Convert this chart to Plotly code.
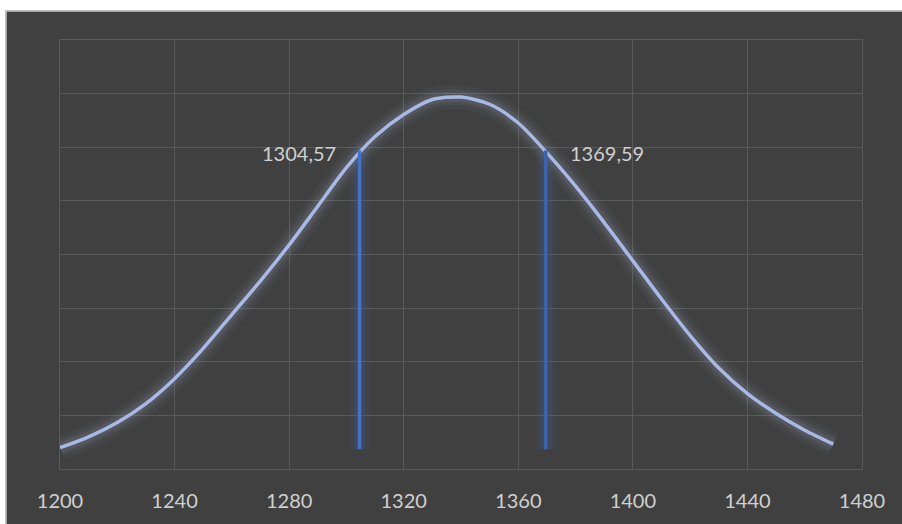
import plotly.graph_objects as go

# ---- data ----
curve_x = [1200, 1210, 1220, 1230, 1240, 1250, 1260, 1270, 1280, 1290, 1300, 1310, 1320, 1330,
           1340, 1350, 1360, 1370, 1380, 1390, 1400, 1410, 1420, 1430, 1440, 1450, 1460, 1470]
curve_y = [0.000397, 0.000600, 0.000867, 0.001220, 0.001685, 0.002250, 0.002880, 0.003510,
           0.004179, 0.004900, 0.005620, 0.006200, 0.006610, 0.006890, 0.006935, 0.006802,
           0.006452, 0.005895, 0.005275, 0.004595, 0.003882, 0.003170, 0.002489, 0.001883,
           0.001406, 0.001035, 0.000724, 0.000464]

marker_x = [1304.57, 1369.59]
marker_top = [0.005938, 0.005938]
marker_bottom = [0.000370, 0.000370]
marker_colors = ["#4472C4", "#3B64AD"]

x_ticks = [1200, 1240, 1280, 1320, 1360, 1400, 1440, 1480]

BG = "#404040"
GRID = "#595959"
TEXT = "#D0D0D0"
FONT = "Lato"

fig = go.Figure()

# glow under the curve
for w, a in [(24, 0.05), (16, 0.08), (10, 0.11)]:
    fig.add_trace(go.Scatter(x=curve_x, y=curve_y, mode="lines",
                             line=dict(color=f"rgba(165,175,205,{a})", width=w, shape="spline", smoothing=0.8),
                             hoverinfo="skip", showlegend=False))

# glow for the vertical lines
for xv, yt, yb in zip(marker_x, marker_top, marker_bottom):
    for w, a in [(20, 0.08), (12, 0.12)]:
        fig.add_trace(go.Scatter(x=[xv, xv], y=[yb, yt], mode="lines",
                                 line=dict(color=f"rgba(68,114,196,{a})", width=w),
                                 hoverinfo="skip", showlegend=False))

# the curve
fig.add_trace(go.Scatter(x=curve_x, y=curve_y, mode="lines",
                         line=dict(color="#A9B9E6", width=3.5, shape="spline", smoothing=0.8),
                         showlegend=False))

# vertical lines
for xv, yt, yb, c in zip(marker_x, marker_top, marker_bottom, marker_colors):
    fig.add_trace(go.Scatter(x=[xv, xv], y=[yb, yt], mode="lines",
                             line=dict(color=c, width=3.5), showlegend=False))

# labels
for i, (xv, yt) in enumerate(zip(marker_x, marker_top)):
    txt = f"{xv:.2f}".replace(".", ",")
    fig.add_annotation(x=xv, y=yt, xref="x", yref="y", text=txt, showarrow=False,
                       xanchor="right" if i == 0 else "left",
                       xshift=-22 if i == 0 else 22, yshift=-2,
                       font=dict(family=FONT, size=20, color=TEXT))

# white outer strips and light border (top and left)
fig.add_shape(type="rect", xref="paper", yref="paper", x0=-0.2, x1=1.2,
              y0=(470.7 - 10.5) / 430.7, y1=1.3, fillcolor="white", line=dict(width=0), layer="above")
fig.add_shape(type="rect", xref="paper", yref="paper", x0=-0.2, x1=(5.5 - 60) / 802,
              y0=-0.3, y1=1.3, fillcolor="white", line=dict(width=0), layer="above")
fig.add_shape(type="line", xref="paper", yref="paper", x0=(6 - 60) / 802, x1=1.2,
              y0=(470.7 - 11) / 430.7, y1=(470.7 - 11) / 430.7,
              line=dict(color="#C8C8C8", width=1.5), layer="above")
fig.add_shape(type="line", xref="paper", yref="paper", x0=(6 - 60) / 802, x1=(6 - 60) / 802,
              y0=-0.3, y1=(470.7 - 11) / 430.7,
              line=dict(color="#C8C8C8", width=1.5), layer="above")

fig.update_layout(
    width=902, height=524,
    margin=dict(l=60, r=40, t=40, b=53),
    paper_bgcolor=BG, plot_bgcolor=BG,
    showlegend=False,
    xaxis=dict(range=[1200, 1480], tickvals=x_ticks, ticktext=[str(t) for t in x_ticks],
               showgrid=True, gridcolor=GRID, gridwidth=1, zeroline=False,
               showline=True, linecolor=GRID, linewidth=1, mirror=True,
               ticks="", ticklabelstandoff=14,
               tickfont=dict(family=FONT, size=20, color=TEXT)),
    yaxis=dict(range=[0, 0.008], dtick=0.001, showgrid=True, gridcolor=GRID, gridwidth=1,
               zeroline=False, showline=True, linecolor=GRID, linewidth=1, mirror=True,
               showticklabels=False, ticks=""),
)

fig.write_html("out.html", config={"displayModeBar": False},
               post_script="document.body.style.margin='0';document.body.style.padding='0';"
                           "document.body.style.overflow='hidden';")
